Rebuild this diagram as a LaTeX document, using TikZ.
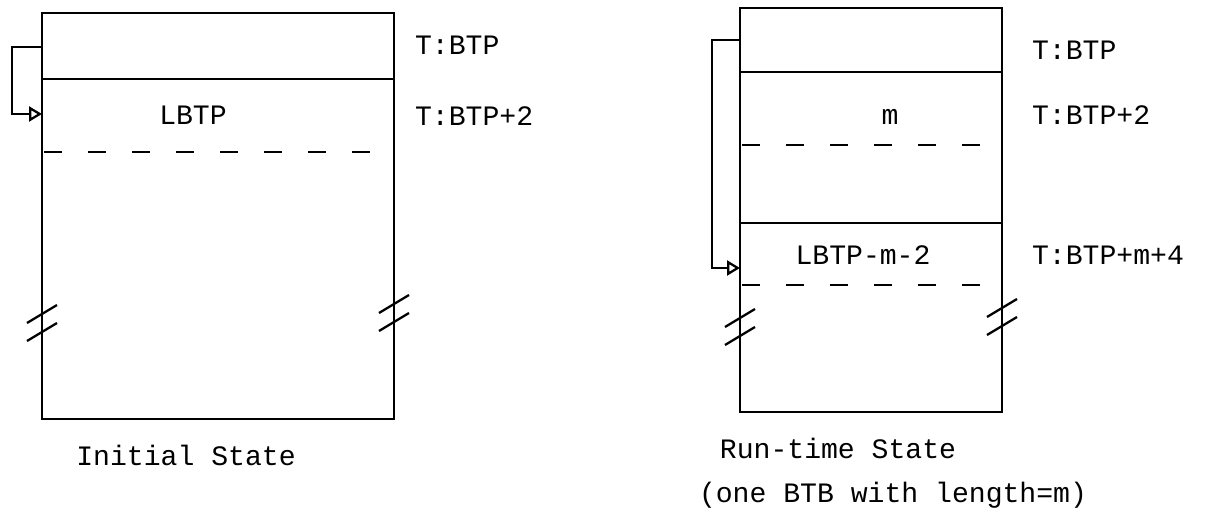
\documentclass[tikz,border=0pt]{standalone}
\usepackage{fontspec}
\setmonofont{Liberation Mono}
\usetikzlibrary{arrows.meta}

\begin{document}
\begin{tikzpicture}[
        x=0.02cm, y=-0.02cm,
        every node/.style={font=\ttfamily\fontsize{16}{18}\selectfont, inner sep=1pt},
        >={Triangle[open, length=0.26cm, width=0.3cm]},
        box/.style={line width=1.5pt},
        divider/.style={line width=1.5pt, dash pattern=on 0.36cm off 0.52cm},
        loopline/.style={line width=1.3pt, ->}
    ]

        \useasboundingbox (0,0) rectangle (1229,510);

% ---------- LEFT: initial state ----------
        \draw[box] (42,13) rectangle (394,419);
        \draw[box] (42,79) -- (394,79);
        \draw[divider] (44,152) -- (394,152);

        \coordinate (iOut) at (42,47);
        \coordinate (iIn) at (42,114);
        \draw[loopline] (iOut) -- ++(-30,0) |- (iIn);

        \node (iLBTP) at (193,115) {LBTP};
        \node[anchor=west] (iT0) at (413,45) {T:BTP};
        \node[anchor=west] (iT2) at (413,116) {T:BTP+2};
        \node (iTitle) at (186,455) {Initial State};

% ---------- RIGHT: run-time state ----------
        \draw[box] (740,8) rectangle (1002,412);
        \draw[box] (740,72) -- (1002,72);
        \draw[divider] (742,145) -- (1002,145);
        \draw[box] (740,223) -- (1002,223);
        \draw[divider] (742,285) -- (1002,285);

        \coordinate (rOut) at (740,40);
        \coordinate (rIn) at (740,268);
        \draw[loopline] (rOut) -- ++(-28,0) |- (rIn);

        \node (rM) at (890,117) {m};
        \node (rLBTP) at (863,255) {LBTP-m-2};
        \node[anchor=west] (rT0) at (1030,50) {T:BTP};
        \node[anchor=west] (rT2) at (1030,115) {T:BTP+2};
        \node[anchor=west] (rT4) at (1030,255) {T:BTP+m+4};
        \node (rTitle) at (838,448) {Run-time State};
        \node (rSub) at (893,495) {(one BTB with length=m)};

% ---------- break marks on the box sides ----------
        \foreach \bx/\by in {42/314, 394/304, 740/318, 1002/308}{
            \draw[line width=1.3pt] (\bx-15,\by+9) -- (\bx+15,\by-9);
            \draw[line width=1.3pt] (\bx-15,\by+27) -- (\bx+15,\by+9);
        }

    \end{tikzpicture}
\end{document}
